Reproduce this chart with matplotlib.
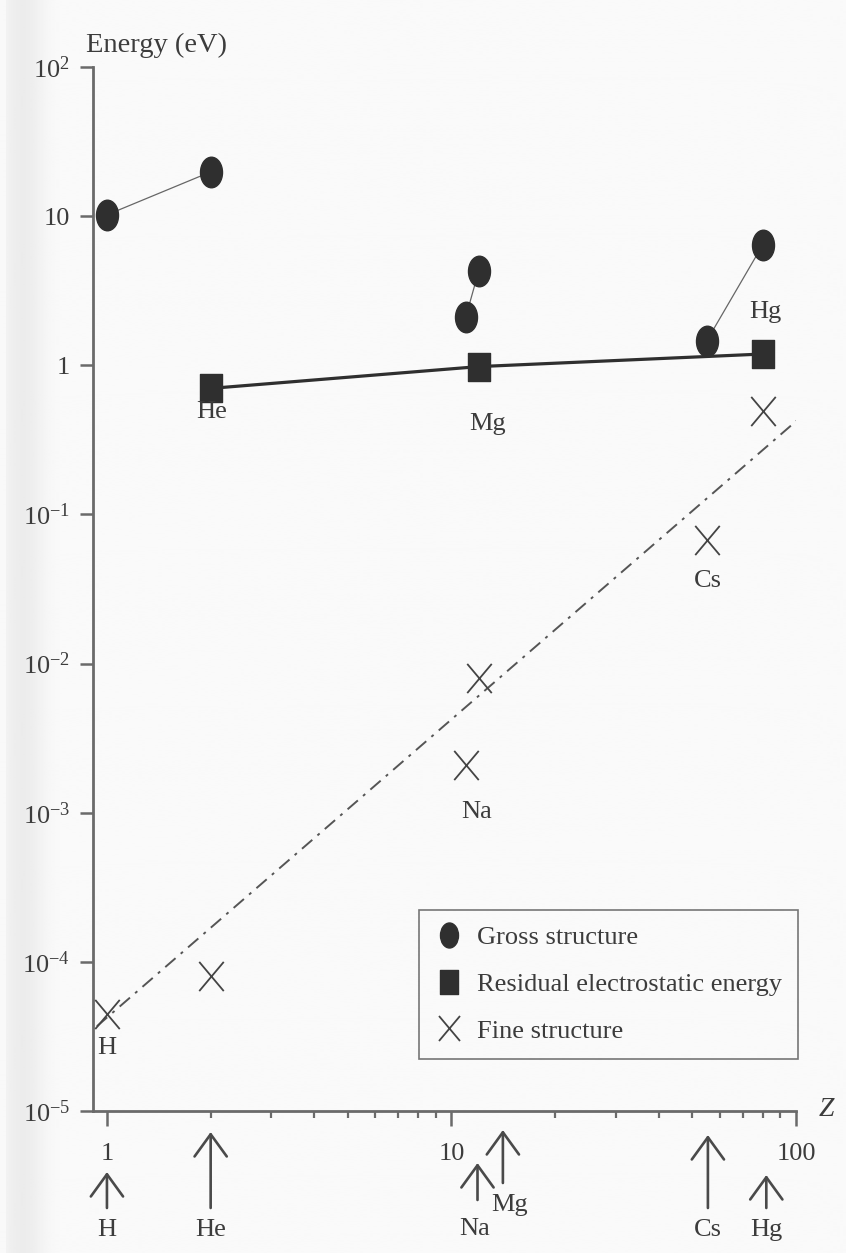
import numpy as np
import matplotlib
matplotlib.use("Agg")
import matplotlib.pyplot as plt
from matplotlib.path import Path
from matplotlib.lines import Line2D
from matplotlib.transforms import Affine2D, blended_transform_factory

plt.rcParams['font.family'] = ['Liberation Serif', 'DejaVu Serif']
plt.rcParams['mathtext.fontset'] = 'custom'
plt.rcParams['mathtext.rm'] = 'Liberation Serif'
plt.rcParams['mathtext.it'] = 'Liberation Serif:italic'

# ---- data -------------------------------------------------------------
elements = ["H", "He", "Na", "Mg", "Cs", "Hg"]

gross_z = [1, 2, 11, 12, 55, 80]
gross_energy = [10.2, 19.8, 2.1, 4.3, 1.45, 6.4]          # eV
gross_pairs = [(0, 1), (2, 3), (4, 5)]                     # joined by thin lines

residual_z = [2, 12, 80]
residual_energy = [0.70, 0.98, 1.19]                       # eV

fine_z = [1, 2, 11, 12, 55, 80]
fine_energy = [4.5e-5, 8.0e-5, 2.1e-3, 8.0e-3, 0.067, 0.49]  # eV

trend_z = [0.935, 101]
trend_energy = [3.7e-5, 0.43]

y_ticks = [1e-5, 1e-4, 1e-3, 1e-2, 1e-1, 1, 10, 100]
y_tick_labels = ["10$^{-5}$", "10$^{-4}$", "10$^{-3}$", "10$^{-2}$",
                 "10$^{-1}$", "1", "10", "10$^{2}$"]
x_ticks = [1, 10, 100]
x_tick_labels = ["1", "10", "100"]

legend_labels = ["Gross structure", "Residual electrostatic energy", "Fine structure"]

# ---- layout / style -----------------------------------------------------
W, H = 846, 1253
DPI = 100
INK = "#2f2f2f"
AXC = "#6a6a6a"
TXT = "#3c3c3c"
FS = 19

fig = plt.figure(figsize=(W / DPI, H / DPI), dpi=DPI)
fig.patch.set_facecolor("#fafafa")

# paper shading along the left edge
bg = fig.add_axes([0, 0, 1, 1], zorder=-10)
xs = np.arange(W)
shade = 0.98 - 0.055 * np.exp(-((xs - 22) / 22.0) ** 2)
shade[:6] = 0.975
bg.imshow(np.tile(shade, (8, 1)), cmap="gray", vmin=0, vmax=1,
          aspect="auto", extent=[0, 1, 0, 1])
bg.set_axis_off()

ax = fig.add_axes([93 / W, 1 - 1111 / H, (796 - 93) / W, (1111 - 67) / H])
ax.patch.set_alpha(0)
ax.set_xscale("log")
ax.set_yscale("log")
ax.set_xlim(0.911, 100)
ax.set_ylim(1e-5, 1e2)

for s in ("top", "right"):
    ax.spines[s].set_visible(False)
for s in ("left", "bottom"):
    ax.spines[s].set_color(AXC)
    ax.spines[s].set_linewidth(2.0)

ax.set_yticks(y_ticks)
ax.set_yticklabels(y_tick_labels)
ax.yaxis.set_minor_locator(matplotlib.ticker.NullLocator())
ax.set_xticks(x_ticks)
ax.set_xticklabels(x_tick_labels)
ax.xaxis.set_minor_locator(matplotlib.ticker.LogLocator(base=10, subs=np.arange(2, 10)))
ax.xaxis.set_minor_formatter(matplotlib.ticker.NullFormatter())
ax.tick_params(axis="y", which="major", direction="out", length=9.5, width=1.8,
               color=AXC, labelcolor=TXT, labelsize=FS, pad=7)
ax.tick_params(axis="x", which="major", direction="out", length=11, width=1.8,
               color=AXC, labelcolor=TXT, labelsize=FS, pad=12)
ax.tick_params(axis="x", which="minor", direction="out", length=5, width=1.6,
               color=AXC)

# marker shapes
ellipse = Path.unit_circle().transformed(Affine2D().scale(0.72, 1.0))
box = Path([(-0.39, -0.5), (0.39, -0.5), (0.39, 0.5), (-0.39, 0.5), (-0.39, -0.5)],
           [Path.MOVETO, Path.LINETO, Path.LINETO, Path.LINETO, Path.CLOSEPOLY])
cross = Path([(-0.42, -0.5), (0.42, 0.5), (-0.42, 0.5), (0.42, -0.5)],
             [Path.MOVETO, Path.LINETO, Path.MOVETO, Path.LINETO])

# trend line for fine structure
ax.plot(trend_z, trend_energy, color="#555555", lw=1.4,
        dashes=(7, 3.5, 1.5, 3.5), zorder=2)

# gross structure: thin joins + ellipses
for i, j in gross_pairs:
    ax.plot([gross_z[i], gross_z[j]], [gross_energy[i], gross_energy[j]],
            color="#666666", lw=0.9, zorder=2)
ax.plot(gross_z, gross_energy, ls="none", marker=ellipse, ms=22,
        mfc=INK, mec=INK, zorder=4)

# residual electrostatic energy: thick line + squares
ax.plot(residual_z, residual_energy, color=INK, lw=2.3, marker=box, ms=19.5,
        mfc=INK, mec=INK, zorder=3)

# fine structure: crosses
ax.plot(fine_z, fine_energy, ls="none", marker=cross, ms=21, mfc="none",
        mec="#444444", mew=1.3, zorder=4)

# element labels next to marks (offsets in points)
label_specs = [
    ("He", residual_z[0], residual_energy[0], (1, -17)),
    ("Mg", residual_z[1], residual_energy[1], (6, -41)),
    ("Hg", residual_z[2], residual_energy[2], (2, 30)),
    ("Cs", fine_z[4], fine_energy[4], (1, -29)),
    ("Na", fine_z[2], fine_energy[2], (8, -34)),
    ("H", fine_z[0], fine_energy[0], (0, -25)),
]
for name, zx, ey, off in label_specs:
    ax.annotate(name, (zx, ey), xytext=off, textcoords="offset points",
                ha="center", va="center", fontsize=FS, color=TXT, zorder=5)

# arrows under the Z axis marking each element
arrow_z = [1, 2, 11.9, 14.1, 55.5, 82]
arrow_tip_px = [1172, 1132, 1163, 1130, 1135, 1175]
arrow_tail_px = [1208, 1208, 1200, 1183, 1208, 1208]
arrow_label_px = [(0, 1230), (0, 1230), (-3, 1229), (7, 1205), (0, 1230), (0, 1230)]
trans = blended_transform_factory(ax.transData, fig.transFigure)
for name, zx, tip, tail, (dx, ly) in zip(elements, arrow_z, arrow_tip_px,
                                         arrow_tail_px, arrow_label_px):
    ax.annotate("", xy=(zx, 1 - tip / H), xycoords=trans,
                xytext=(zx, 1 - tail / H), textcoords=trans,
                arrowprops=dict(arrowstyle="->, head_length=0.8, head_width=0.58",
                                lw=1.9, color="#4a4a4a", shrinkA=0, shrinkB=0,
                                mutation_scale=20),
                annotation_clip=False)
    ax.annotate(name, xy=(zx, 1 - ly / H), xycoords=trans,
                xytext=(dx * 0.72, 0), textcoords="offset points",
                ha="center", va="center", fontsize=FS, color=TXT,
                annotation_clip=False)

# axis titles
fig.text(156 / W, 1 - 45 / H, "Energy (eV)", ha="center", va="center",
         fontsize=20.5, color=TXT)
fig.text(826 / W, 1 - 1110 / H, "Z", ha="center", va="center",
         fontsize=FS + 1, color=TXT, style="italic")

# legend
handles = [
    Line2D([], [], ls="none", marker=ellipse, ms=18, mfc=INK, mec=INK),
    Line2D([], [], ls="none", marker=box, ms=17, mfc=INK, mec=INK),
    Line2D([], [], ls="none", marker=cross, ms=18, mfc="none", mec="#444444", mew=1.3),
]
leg = ax.legend(handles, legend_labels, loc="upper left",
                bbox_to_anchor=(419 / W, 1 - 910 / H), bbox_transform=fig.transFigure,
                borderaxespad=0, fontsize=FS, frameon=True, fancybox=False,
                borderpad=0.6, handlelength=1.1, handletextpad=0.5,
                labelspacing=0.88, labelcolor=TXT)
leg.get_frame().set_edgecolor("#555555")
leg.get_frame().set_linewidth(1.2)
leg.get_frame().set_facecolor("none")

fig.savefig("out.png", dpi=DPI, facecolor=fig.get_facecolor())
